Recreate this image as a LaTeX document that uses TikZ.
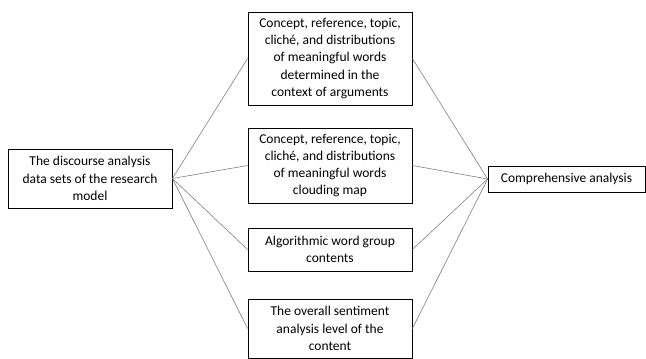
\documentclass[tikz,border=0pt]{standalone}
\usepackage{fontspec}
\setmainfont{Carlito}
\usepackage{tikz}
\usepackage{xcolor}

\begin{document}
\begin{tikzpicture}[x=1pt, y=-1pt,
    box/.style={rectangle, draw, line width=0.8pt, minimum width=164pt,
      align=center, inner sep=0pt},
    link/.style={draw=gray, line width=0.6pt}]
    \fontsize{13.5}{17.3}\selectfont
    \useasboundingbox (0,0) rectangle (646,359);
    % Nodes
    \node (source) [box, minimum height=59pt] at (90,178.5)
    {The discourse analysis\\ data sets of the research\\ model};
    \node (item1) [box, minimum height=93pt] at (330,58.5)
    {Concept, reference, topic,\\ clich\'e, and distributions\\ of meaningful
      words\\ determined in the\\ context of arguments};
    \node (item2) [box, minimum height=75pt] at (330,165.5)
    {Concept, reference, topic,\\ clich\'e, and distributions\\ of meaningful
      words\\ clouding map};
    \node (item3) [box, minimum height=43pt] at (330,249.5)
    {Algorithmic word group\\ contents};
    \node (item4) [box, minimum height=59pt] at (330,328.5)
    {The overall sentiment\\ analysis level of the\\ content};
    \node (result) [box, minimum width=157pt, minimum height=26pt] at (566.5,179)
    {Comprehensive analysis};

    % Links
    \foreach \i in {1,...,4} {
        \draw [link] (source.east) -- (item\i.west);
        \draw [link] (item\i.east) -- (result.west);
      }
  \end{tikzpicture}
\end{document}
